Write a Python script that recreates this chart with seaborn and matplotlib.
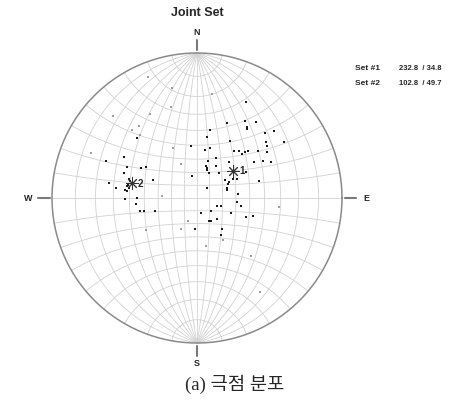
import numpy as np
import pandas as pd
import matplotlib
matplotlib.use("Agg")
import matplotlib.pyplot as plt
import seaborn as sns

# --- DATA (planes as dip direction / dip, plotted as poles) ---
BLACK_DIPDIR = [207, 202, 212, 218, 215, 216, 191, 226, 229, 189, 210, 231, 237, 195, 233, 190, 218, 222, 227, 226,
                232, 237, 226, 196, 205, 222, 238, 241, 244, 211, 196, 199, 200, 206, 221, 242, 238, 243, 246, 242,
                245, 255, 227, 251, 254, 264, 275, 280, 292, 289, 343, 311, 294, 291, 288, 332, 328, 316, 321, 327,
                4, 174, 167, 135, 119, 112, 114, 118, 121, 109, 100, 97, 96, 96, 98, 112, 89, 90, 84, 77,
                76, 73, 106, 104, 101, 100]
BLACK_DIP = [73, 58, 64, 67, 62, 61, 51, 66, 70, 46, 49, 63, 71, 39, 62, 37, 45, 47, 51, 49,
             56, 60, 47, 30, 34, 37, 50, 55, 59, 29, 26, 25, 23, 22, 26, 42, 26, 28, 26, 31,
             34, 48, 11, 25, 24, 32, 31, 34, 17, 20, 12, 15, 29, 40, 44, 20, 21, 23, 31, 34,
             24, 40, 18, 61, 60, 68, 56, 47, 45, 56, 63, 59, 53, 52, 51, 36, 53, 45, 46, 44,
             41, 34, 52, 51, 52, 52]
GRAY_DIPDIR = [158, 167, 188, 164, 151, 134, 141, 136, 138, 155, 113, 155, 93, 276, 21, 27, 58, 328, 349, 317, 326]
GRAY_DIP = [84, 76, 72, 66, 67, 78, 65, 66, 61, 42, 77, 29, 27, 59, 19, 27, 45, 38, 37, 57, 76]

SET_NAMES = ['Set #1', 'Set #2']
SET_DIPDIR = [232.8, 102.8]
SET_DIP = [34.8, 49.7]
SET_LABELS = ['1', '2']


def pole_xy(dipdir, dip):
    # pole of the plane, lower hemisphere, equal-angle (Wulff) projection
    dipdir = np.asarray(dipdir, float)
    dip = np.asarray(dip, float)
    trend = np.radians((dipdir + 180) % 360)
    plunge = np.radians(90 - dip)
    r = np.tan((np.pi / 2 - plunge) / 2)
    return r * np.sin(trend), r * np.cos(trend)


def net_xy(lam, phi):
    lam = np.radians(lam)
    phi = np.radians(phi)
    e = np.cos(phi) * np.sin(lam)
    n = np.sin(phi)
    d = np.cos(phi) * np.cos(lam)
    return e / (1 + d), n / (1 + d)


sns.set_style("white")
plt.rcParams['font.family'] = ['Liberation Sans', 'DejaVu Sans']

fig = plt.figure(figsize=(4.56, 4.0), dpi=100)
ax = fig.add_axes([0, 0, 1, 1])
ax.set_xlim(-197 / 145, 259 / 145)
ax.set_ylim(-202 / 145, 198 / 145)
ax.set_aspect('equal')
ax.axis('off')

# Wulff net grid, 10 degree spacing
grid_col = '#d2d2d2'
t = np.linspace(-90, 90, 361)
for lam in range(-80, 81, 10):
    x, y = net_xy(np.full_like(t, lam), t)
    ax.plot(x, y, color=grid_col, lw=0.6, zorder=1)
for phi in range(-80, 81, 10):
    x, y = net_xy(t, np.full_like(t, phi))
    ax.plot(x, y, color=grid_col, lw=0.6, zorder=1)
a = np.linspace(0, 2 * np.pi, 400)
ax.plot(np.cos(a), np.sin(a), color='#8a8a8a', lw=1.1, zorder=2)

# compass ticks and labels
tick_col = '#7a7a7a'
ax.plot([0, 0], [1.021, 1.090], color=tick_col, lw=1.5)
ax.plot([0, 0], [-1.021, -1.090], color=tick_col, lw=1.5)
ax.plot([-1.014, -1.097], [0, 0], color=tick_col, lw=1.5)
ax.plot([1.021, 1.097], [0, 0], color=tick_col, lw=1.5)
lab_kw = dict(fontsize=6.5, fontweight='bold', ha='center', va='center')
ax.text(0, 1.138, 'N', **lab_kw)
ax.text(0, -1.138, 'S', **lab_kw)
ax.text(-1.166, 0, 'W', **lab_kw)
ax.text(1.166, 0, 'E', **lab_kw)

# poles
bx, by = pole_xy(BLACK_DIPDIR, BLACK_DIP)
gx, gy = pole_xy(GRAY_DIPDIR, GRAY_DIP)
poles = pd.DataFrame({'x': np.concatenate([bx, gx]), 'y': np.concatenate([by, gy]),
                      'kind': ['dark'] * len(bx) + ['light'] * len(gx)})
sns.scatterplot(data=poles[poles.kind == 'light'], x='x', y='y', color='#a0a0a0', marker='s',
                s=2.5, linewidth=0, legend=False, ax=ax, zorder=3)
sns.scatterplot(data=poles[poles.kind == 'dark'], x='x', y='y', color='#1a1a1a', marker='s',
                s=3, linewidth=0, legend=False, ax=ax, zorder=4)

# set mean poles
sx, sy = pole_xy(SET_DIPDIR, SET_DIP)
sets = pd.DataFrame({'x': sx, 'y': sy, 'name': SET_NAMES})
sns.scatterplot(data=sets, x='x', y='y', marker=(8, 2, 0), s=70, color='#333333',
                edgecolor='#333333', linewidth=0.7, legend=False, ax=ax, zorder=5)
for xx, yy, lab in zip(sx, sy, SET_LABELS):
    ax.text(xx + 0.045, yy - 0.005, lab, fontsize=7, fontweight='bold', ha='left', va='center', zorder=6)

# set summary text
for i, (nm, dd, dp) in enumerate(zip(SET_NAMES, SET_DIPDIR, SET_DIP)):
    yy = 0.890 - i * 0.097
    ax.text(1.090, yy, nm, fontsize=6, fontweight='bold', ha='left', va='center')
    ax.text(1.393, yy, f'{dd:.1f}  / {dp:.1f}', fontsize=5.5, fontweight='bold', ha='left', va='center')

ax.text(0, 1.276, 'Joint Set', fontsize=9, fontweight='bold', ha='center', va='center')
ax.text(0.262, -1.283, '(a) 극점 분포', fontsize=13.5, ha='center', va='center',
        family=['Liberation Serif', 'Noto Sans CJK KR'])

fig.savefig('out.png', dpi=100)
